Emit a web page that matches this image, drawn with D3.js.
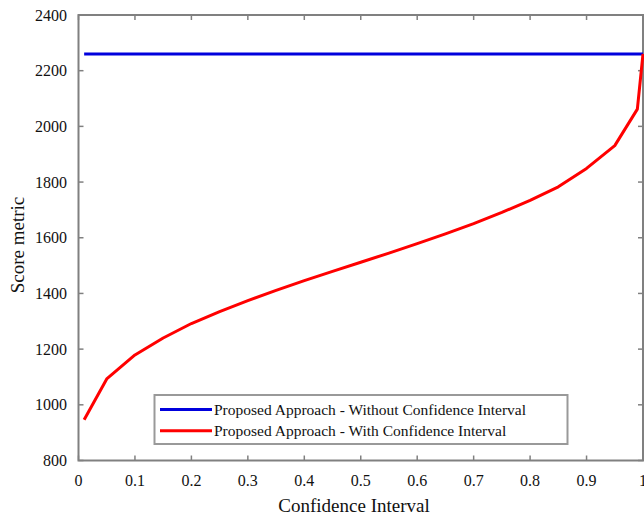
<!DOCTYPE html>
<html><head><meta charset="utf-8">
<script src="https://cdn.jsdelivr.net/npm/d3@7"></script>
<style>body{margin:0;background:#fff}svg{display:block}</style>
</head><body>
<script>
const confidence = [0.01,0.05,0.1,0.15,0.2,0.25,0.3,0.35,0.4,0.45,0.5,0.55,0.6,0.65,0.7,0.75,0.8,0.85,0.9,0.95,0.99,1.0];
const withCI = [946,1093,1179,1240,1292,1335,1374,1411,1446,1479,1512,1545,1579,1614,1651,1691,1734,1783,1849,1931,2062,2260];
const withoutCI = [2260,2260,2260,2260,2260,2260,2260,2260,2260,2260,2260,2260,2260,2260,2260,2260,2260,2260,2260,2260,2260,2260];
const xTicks = [0,0.1,0.2,0.3,0.4,0.5,0.6,0.7,0.8,0.9,1];
const yTicks = [800,1000,1200,1400,1600,1800,2000,2200,2400];
const seriesNames = ["Proposed Approach - Without Confidence Interval","Proposed Approach - With Confidence Interval"];
const seriesColors = ["#0000dd","#ff0000"];

const W=644,H=516;
const L=78.5,R=643,T=15,B=460.5;
const svg=d3.select("body").append("svg").attr("width",W).attr("height",H);
const x=d3.scaleLinear().domain([0,1]).range([L,R]);
const y=d3.scaleLinear().domain([800,2400]).range([B,T]);
const font="'Liberation Serif','Times New Roman',serif";
const axisCol="#808080";

// ticks inward on all four sides
const tl=5;
const g=svg.append("g");
xTicks.forEach(t=>{
  g.append("line").attr("x1",x(t)).attr("x2",x(t)).attr("y1",B).attr("y2",B-tl).attr("stroke",axisCol).attr("stroke-width",1.5);
  g.append("line").attr("x1",x(t)).attr("x2",x(t)).attr("y1",T).attr("y2",T+tl).attr("stroke",axisCol).attr("stroke-width",1.5);
  g.append("text").attr("x",x(t)).attr("y",486).attr("text-anchor","middle")
   .attr("font-family",font).attr("font-size",16).attr("fill","#111").text(d3.format("")(t));
});
yTicks.forEach(t=>{
  g.append("line").attr("x1",L).attr("x2",L+tl).attr("y1",y(t)).attr("y2",y(t)).attr("stroke",axisCol).attr("stroke-width",1.5);
  g.append("line").attr("x1",R).attr("x2",R-tl).attr("y1",y(t)).attr("y2",y(t)).attr("stroke",axisCol).attr("stroke-width",1.5);
  g.append("text").attr("x",67).attr("y",y(t)).attr("dy","0.35em").attr("text-anchor","end")
   .attr("font-family",font).attr("font-size",16).attr("fill","#111").text(t);
});
svg.append("rect").attr("x",L).attr("y",T).attr("width",R-L).attr("height",B-T)
  .attr("fill","none").attr("stroke",axisCol).attr("stroke-width",2);

const line=d3.line().x((d,i)=>x(confidence[i])).y(d=>y(d));
svg.append("path").datum(withoutCI).attr("d",line).attr("fill","none").attr("stroke",seriesColors[0]).attr("stroke-width",3);
svg.append("path").datum(withCI).attr("d",line).attr("fill","none").attr("stroke",seriesColors[1]).attr("stroke-width",3).attr("stroke-linejoin","round");

// axis titles
svg.append("text").attr("x",354).attr("y",512).attr("text-anchor","middle")
  .attr("font-family",font).attr("font-size",19).attr("fill","#111").text("Confidence Interval");
svg.append("text").attr("transform","translate(24,245) rotate(-90)").attr("text-anchor","middle")
  .attr("font-family",font).attr("font-size",19).attr("fill","#111").text("Score metric");

// legend
const lg=svg.append("g");
lg.append("rect").attr("x",154.5).attr("y",395).attr("width",413).attr("height",49)
  .attr("fill","#fff").attr("stroke","#999").attr("stroke-width",2);
seriesNames.forEach((n,i)=>{
  const yy=409.5+i*21.3;
  lg.append("line").attr("x1",160).attr("x2",212).attr("y1",yy).attr("y2",yy).attr("stroke",seriesColors[i]).attr("stroke-width",3);
  lg.append("text").attr("x",214).attr("y",yy).attr("dy","0.33em").attr("font-family",font).attr("font-size",15.5).attr("fill","#111").text(n);
});
</script>
</body></html>
